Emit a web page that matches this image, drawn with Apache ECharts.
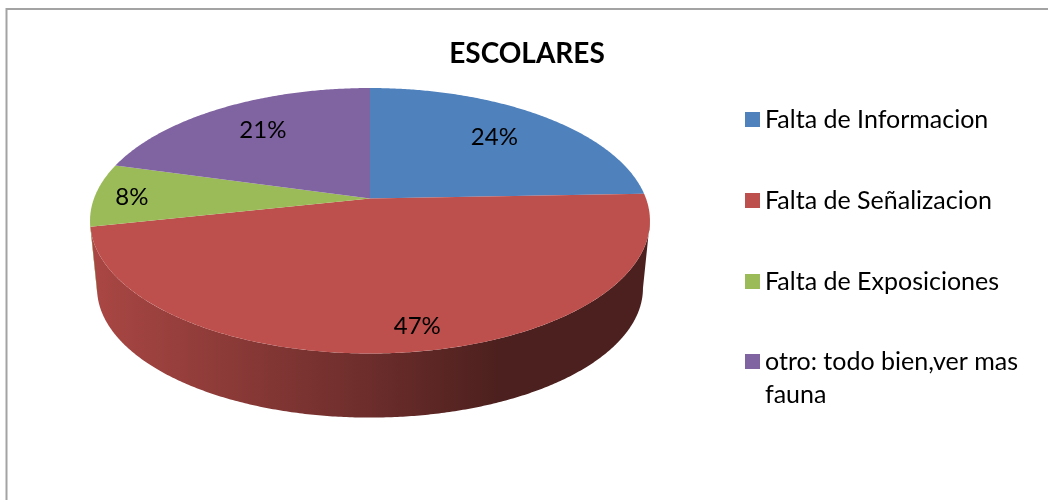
<!DOCTYPE html>
<html>
<head>
<meta charset="utf-8">
<style>
  html, body { margin: 0; padding: 0; background: #fff; }
  #chart { width: 1048px; height: 500px; }
</style>
<script src="https://cdn.jsdelivr.net/npm/echarts@6/dist/echarts.min.js"></script>
</head>
<body>
<div id="chart"></div>
<script>
var categories = ['Falta de Informacion', 'Falta de Señalizacion', 'Falta de Exposiciones', 'otro: todo bien,ver mas fauna']
var values = [24.4, 47.2, 7.7, 20.7]
var colors = ['#4f81bd', '#bd4f4c', '#9bbb59', '#8064a2']

// label distance from the pivot as a share of the radius, then a small nudge
var labelRadius = [0.74, 0.85, 0.86, 0.74]
var labelNudge = [[-2, 0], [12, -3], [-2, 2], [2, -1]]

// the pie is a tilted disc seen in perspective
var cx = 370
var cy = 198.5
var radiusX = 276
var radiusY = 129
var tilt = 0.1676
var depth = 68
var bottomScale = 0.975
var fontName = 'Lato'

function project(deg, scale, shift) {
  var t = deg * Math.PI / 180
  var u = Math.sin(t)
  var v = Math.cos(t)
  var w = 1 + tilt * v
  return [cx + scale * radiusX * u / w, cy + shift - scale * radiusY * v / w]
}

function shade(color, f) {
  var c = echarts.color.parse(color)
  return 'rgb(' + Math.round(c[0] * f) + ',' + Math.round(c[1] * f) + ',' + Math.round(c[2] * f) + ')'
}

var total = values.reduce(function(a, b) { return a + b }, 0)
// the rim is only visible between these two angles
var frontStart = 180 - Math.acos(tilt) * 180 / Math.PI
var frontEnd = 360 - frontStart

function renderSlice(index) {
  return function() {
    var before = values.slice(0, index).reduce(function(a, b) { return a + b }, 0)
    var start = before / total * 360
    var end = (before + values[index]) / total * 360
    var children = []

    var a = Math.max(start, frontStart)
    var b = Math.min(end, frontEnd)
    if (b > a) {
      var upper = []
      var lower = []
      for (var d = a; d < b; d += 0.5) {
        upper.push(project(d, 1, 0))
        lower.unshift(project(d, bottomScale, depth))
      }
      upper.push(project(b, 1, 0))
      lower.unshift(project(b, bottomScale, depth))
      children.push({
        type: 'polygon',
        shape: { points: upper.concat(lower) },
        style: {
          fill: new echarts.graphic.LinearGradient(90, 0, 650, 0, [
            { offset: 0, color: shade(colors[index], 0.9) },
            { offset: 0.5, color: shade(colors[index], 0.57) },
            { offset: 0.73, color: shade(colors[index], 0.4) },
            { offset: 1, color: shade(colors[index], 0.4) }
          ], true)
        }
      })
    }

    var top = [[cx, cy]]
    for (var e = start; e < end; e += 0.5) {
      top.push(project(e, 1, 0))
    }
    top.push(project(end, 1, 0))
    children.push({
      type: 'polygon',
      shape: { points: top },
      style: { fill: colors[index] }
    })

    var labelPos = project((start + end) / 2, labelRadius[index], 0)
    children.push({
      type: 'text',
      style: {
        x: labelPos[0] + labelNudge[index][0],
        y: labelPos[1] + labelNudge[index][1],
        text: Math.round(values[index]) + '%',
        fill: '#000',
        font: '24px ' + fontName,
        align: 'center',
        verticalAlign: 'middle'
      }
    })
    return { type: 'group', children: children }
  }
}

var chart = echarts.init(document.getElementById('chart'))

var legendBase = {
  orient: 'vertical',
  left: 745,
  padding: 0,
  itemWidth: 15,
  itemHeight: 15,
  icon: 'rect',
  selectedMode: false,
  textStyle: { fontFamily: fontName, fontSize: 25, color: '#000', lineHeight: 33 }
}

chart.setOption({
  animation: false,
  backgroundColor: '#fff',
  title: {
    text: 'ESCOLARES',
    left: 522,
    top: 49,
    textAlign: 'center',
    textVerticalAlign: 'middle',
    textStyle: { fontFamily: fontName, fontSize: 28, fontWeight: 'bold', color: '#000' }
  },
  legend: [
    Object.assign({}, legendBase, {
      top: 103,
      itemGap: 48,
      data: categories.slice(0, 3)
    }),
    Object.assign({}, legendBase, {
      top: 312,
      // blank first line keeps the marker level with the first text line
      formatter: function() { return '\u00a0\notro: todo bien,ver mas\nfauna' },
      data: categories.slice(3)
    })
  ],
  graphic: [{
    type: 'polyline',
    silent: true,
    shape: { points: [[6.5, 500], [6.5, 9], [1048, 9]] },
    style: { fill: 'none', stroke: '#a3a3a3', lineWidth: 2 }
  }],
  series: categories.map(function(name, i) {
    return {
      type: 'custom',
      name: name,
      coordinateSystem: 'none',
      silent: true,
      itemStyle: { color: colors[i] },
      renderItem: renderSlice(i),
      data: [values[i]]
    }
  })
})
</script>
</body>
</html>
